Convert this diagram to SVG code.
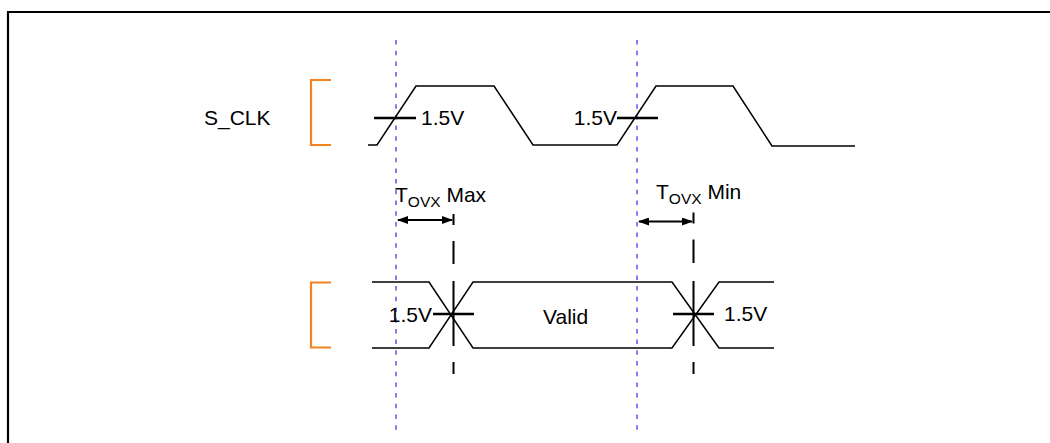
<svg xmlns="http://www.w3.org/2000/svg" width="1050" height="443" viewBox="0 0 1050 443">
<style>
  .txt { font-family: "Liberation Sans", Arial, sans-serif; font-size: 21px; fill: #000; }
  .sub { font-size: 15.5px; }
  .wave { fill: none; stroke: #000; stroke-width: 1.5; stroke-linejoin: miter; }
  .tick { fill: none; stroke: #000; stroke-width: 2.5; }
  .vdash { fill: none; stroke: #000; stroke-width: 2; }
  .ref { fill: none; stroke: #8080f8; stroke-width: 2; stroke-dasharray: 4.5 6.2; }
  .brk { fill: none; stroke: #f58220; stroke-width: 2.2; }
  .arr { fill: none; stroke: #000; stroke-width: 2; }
  .frame { fill: none; stroke: #000; stroke-width: 2.2; }
</style>
<defs>
  <marker id="ah" markerUnits="userSpaceOnUse" markerWidth="11" markerHeight="8" refX="10" refY="4" orient="auto-start-reverse">
    <path d="M0,0 L11,4 L0,8 z" fill="#000"/>
  </marker>
</defs>
<rect width="1050" height="443" fill="#fff"/>
<g id="frame">
  <path class="frame" d="M8,443 V12 H1050"/>
</g>
<g id="reference-lines">
  <line class="ref" x1="396" y1="40" x2="396" y2="432"/>
  <line class="ref" x1="637" y1="40" x2="637" y2="432"/>
</g>
<g id="s_clk">
  <text class="txt" x="204" y="125">S_CLK</text>
  <path class="brk" d="M331,80 H311 V145 H331"/>
  <path class="wave" d="M368,145 H377 L416,86 H494 L533,145 H617 L656,86 H733 L772,146 H855"/>
  <line class="tick" x1="374" y1="118" x2="416" y2="118"/>
  <text class="txt" x="421" y="124.5">1.5V</text>
  <line class="tick" x1="617" y1="118" x2="658" y2="118"/>
  <text class="txt" x="617" y="124.5" text-anchor="end">1.5V</text>
</g>
<g id="data">
  <path class="brk" d="M331,282.5 H311 V347.5 H331"/>
  <path class="wave" d="M372,282 H429 L473,348 H672 L719,282 H774"/>
  <path class="wave" d="M372,348 H429 L473,282 H672 L719,348 H774"/>
  <line class="tick" x1="433" y1="314" x2="474" y2="314"/>
  <line class="tick" x1="673" y1="314" x2="714" y2="314"/>
  <text class="txt" x="432" y="322" text-anchor="end">1.5V</text>
  <text class="txt" x="724" y="320.5">1.5V</text>
  <text class="txt" x="543" y="324">Valid</text>
</g>
<g id="tovx-max">
  <text class="txt" x="395" y="202">T<tspan class="sub" dy="5">OVX</tspan><tspan dy="-5"> Max</tspan></text>
</g>
<g id="tovx-min">
  <text class="txt" x="656" y="199">T<tspan class="sub" dy="5">OVX</tspan><tspan dy="-5"> Min</tspan></text>
</g>
<g id="connectors">
  <line class="arr" x1="398" y1="220" x2="452" y2="220" marker-start="url(#ah)" marker-end="url(#ah)"/>
  <line class="arr" x1="639" y1="221.5" x2="692" y2="221.5" marker-start="url(#ah)" marker-end="url(#ah)"/>
  <path class="vdash" d="M453.5,214 V225 M453.5,241 V264 M453.5,281 V346 M453.5,362 V374"/>
  <path class="vdash" d="M693.5,212.5 V223.5 M693.5,239.5 V263 M693.5,281 V346 M693.5,362 V374"/>
</g>
</svg>
